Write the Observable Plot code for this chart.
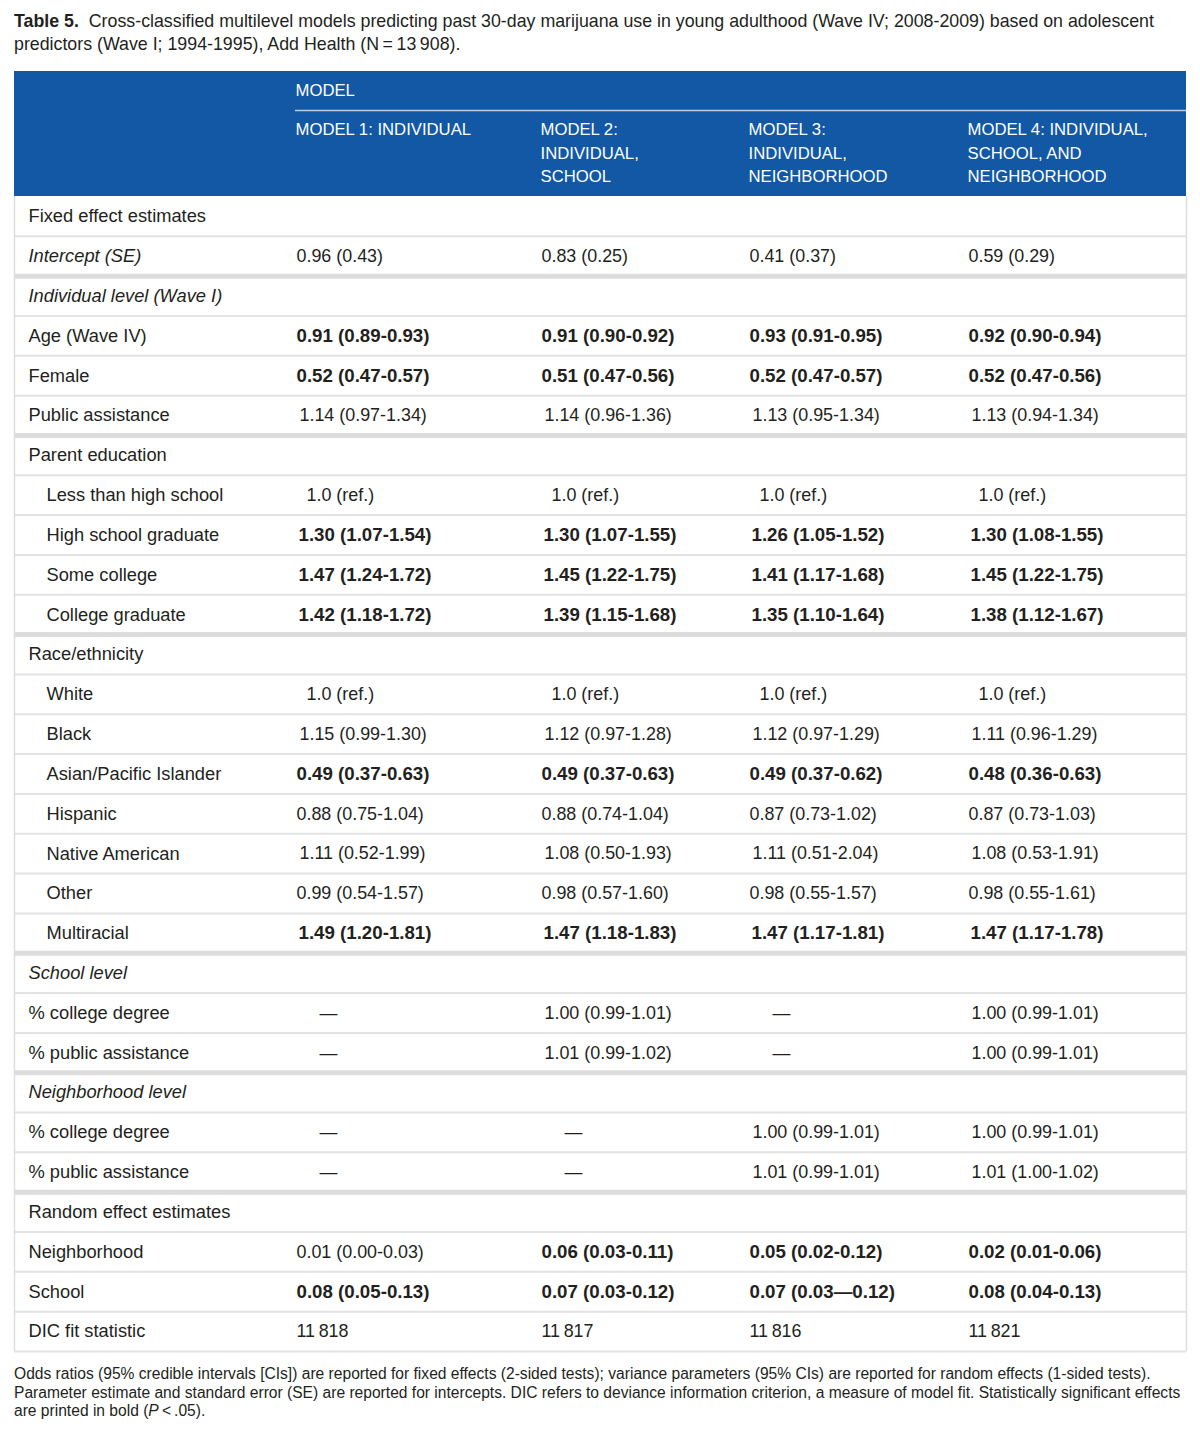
<!DOCTYPE html>
<html>
<head>
<meta charset="utf-8">
<script src="https://cdn.jsdelivr.net/npm/d3@7"></script>
<script src="https://cdn.jsdelivr.net/npm/@observablehq/plot@0.6"></script>
<style>
  body { margin: 0; background: #fff; font-family: "Liberation Sans", Arial, Helvetica, sans-serif; color: #231f20; }
  #page { position: relative; width: 1200px; height: 1435px; }
  #title { position: absolute; left: 14px; top: 10px; font-size: 17.8px; line-height: 23px; white-space: nowrap; }
  #chart { position: absolute; left: 0; top: 70px; }
  #note { position: absolute; left: 14px; top: 1365px; font-size: 15.6px; line-height: 18.7px; white-space: nowrap; }
</style>
</head>
<body>
<div id="page">
  <div id="title"><b>Table 5.</b>&nbsp; Cross-classified multilevel models predicting past 30-day marijuana use in young adulthood (Wave IV; 2008-2009) based on adolescent<br>predictors (Wave I; 1994-1995), Add Health (N&#8201;=&#8201;13&#8201;908).</div>
  <div id="chart"></div>
  <div id="note">Odds ratios (95% credible intervals [CIs]) are reported for fixed effects (2-sided tests); variance parameters (95% CIs) are reported for random effects (1-sided tests).<br>Parameter estimate and standard error (SE) are reported for intercepts. DIC refers to deviance information criterion, a measure of model fit. Statistically significant effects<br>are printed in bold (<i>P</i>&#8201;&lt;&#8201;.05).</div>
</div>
<script>
// ---------- data ----------
const headerGroup = "MODEL";
const modelLabels = [
  "MODEL 1: INDIVIDUAL",
  "MODEL 2:\nINDIVIDUAL,\nSCHOOL",
  "MODEL 3:\nINDIVIDUAL,\nNEIGHBORHOOD",
  "MODEL 4: INDIVIDUAL,\nSCHOOL, AND\nNEIGHBORHOOD"
];
const rowLabels = [
  "Fixed effect estimates", "Intercept (SE)", "Individual level (Wave I)", "Age (Wave IV)", "Female",
  "Public assistance", "Parent education", "Less than high school", "High school graduate", "Some college",
  "College graduate", "Race/ethnicity", "White", "Black", "Asian/Pacific Islander", "Hispanic",
  "Native American", "Other", "Multiracial", "School level", "% college degree", "% public assistance",
  "Neighborhood level", "% college degree", "% public assistance", "Random effect estimates",
  "Neighborhood", "School", "DIC fit statistic"
];
const italicRows = [1, 2, 19, 22];
const indentRows = [7, 8, 9, 10, 12, 13, 14, 15, 16, 17, 18];
const thickAfter = [1, 5, 10, 18, 21, 24];

const model1 = ["", "0.96 (0.43)", "", "0.91 (0.89-0.93)", "0.52 (0.47-0.57)", "1.14 (0.97-1.34)", "",
  "1.0 (ref.)", "1.30 (1.07-1.54)", "1.47 (1.24-1.72)", "1.42 (1.18-1.72)", "", "1.0 (ref.)",
  "1.15 (0.99-1.30)", "0.49 (0.37-0.63)", "0.88 (0.75-1.04)", "1.11 (0.52-1.99)", "0.99 (0.54-1.57)",
  "1.49 (1.20-1.81)", "", "—", "—", "", "—", "—", "", "0.01 (0.00-0.03)", "0.08 (0.05-0.13)", "11\u2009818"];
const model2 = ["", "0.83 (0.25)", "", "0.91 (0.90-0.92)", "0.51 (0.47-0.56)", "1.14 (0.96-1.36)", "",
  "1.0 (ref.)", "1.30 (1.07-1.55)", "1.45 (1.22-1.75)", "1.39 (1.15-1.68)", "", "1.0 (ref.)",
  "1.12 (0.97-1.28)", "0.49 (0.37-0.63)", "0.88 (0.74-1.04)", "1.08 (0.50-1.93)", "0.98 (0.57-1.60)",
  "1.47 (1.18-1.83)", "", "1.00 (0.99-1.01)", "1.01 (0.99-1.02)", "", "—", "—", "", "0.06 (0.03-0.11)",
  "0.07 (0.03-0.12)", "11\u2009817"];
const model3 = ["", "0.41 (0.37)", "", "0.93 (0.91-0.95)", "0.52 (0.47-0.57)", "1.13 (0.95-1.34)", "",
  "1.0 (ref.)", "1.26 (1.05-1.52)", "1.41 (1.17-1.68)", "1.35 (1.10-1.64)", "", "1.0 (ref.)",
  "1.12 (0.97-1.29)", "0.49 (0.37-0.62)", "0.87 (0.73-1.02)", "1.11 (0.51-2.04)", "0.98 (0.55-1.57)",
  "1.47 (1.17-1.81)", "", "—", "—", "", "1.00 (0.99-1.01)", "1.01 (0.99-1.01)", "", "0.05 (0.02-0.12)",
  "0.07 (0.03—0.12)", "11\u2009816"];
const model4 = ["", "0.59 (0.29)", "", "0.92 (0.90-0.94)", "0.52 (0.47-0.56)", "1.13 (0.94-1.34)", "",
  "1.0 (ref.)", "1.30 (1.08-1.55)", "1.45 (1.22-1.75)", "1.38 (1.12-1.67)", "", "1.0 (ref.)",
  "1.11 (0.96-1.29)", "0.48 (0.36-0.63)", "0.87 (0.73-1.03)", "1.08 (0.53-1.91)", "0.98 (0.55-1.61)",
  "1.47 (1.17-1.78)", "", "1.00 (0.99-1.01)", "1.00 (0.99-1.01)", "", "1.00 (0.99-1.01)", "1.01 (1.00-1.02)",
  "", "0.02 (0.01-0.06)", "0.08 (0.04-0.13)", "11\u2009821"];
// rows printed in bold (significant) per model
const sig1 = [3, 4, 8, 9, 10, 14, 18, 27];
const sig2 = [3, 4, 8, 9, 10, 14, 18, 26, 27];
const sig3 = [3, 4, 8, 9, 10, 14, 18, 26, 27];
const sig4 = [3, 4, 8, 9, 10, 14, 18, 26, 27];

// ---------- layout ----------
const NROWS = rowLabels.length;
const ROW_PX = 39.83;
const HEAD_PX = 125;
const HEAD = HEAD_PX / ROW_PX;
const TL = 14, TR = 1186;
const colX = [296, 541, 749, 968];
const hy = px => px / ROW_PX - HEAD;   // header pixel offset -> row units
const FONT = "Liberation Sans, Arial, Helvetica, sans-serif";
const INK = "#231f20";

const models = [model1, model2, model3, model4];
const sigs = [sig1, sig2, sig3, sig4];
const cells = [];
models.forEach((m, j) => m.forEach((t, i) => {
  if (t) cells.push({row: i, col: j, text: t, bold: sigs[j].includes(i)});
}));
const offset = (t, bold) => t === "—" ? 23 : t.startsWith("1.0 (ref") ? 10 : (t[0] === "1" && t[1] === "." ? (bold ? 2 : 3) : 0);

const labels = rowLabels.map((t, i) => ({row: i, text: t, italic: italicRows.includes(i), indent: indentRows.includes(i)}));
const bounds = d3.range(1, NROWS + 1);
const thin = bounds.filter(b => !thickAfter.includes(b - 1));
const thick = bounds.filter(b => thickAfter.includes(b - 1));

const chart = Plot.plot({
  width: 1200,
  height: 1283,
  marginTop: 1, marginBottom: 2, marginLeft: 0, marginRight: 0,
  x: {domain: [0, 1200], axis: null},
  y: {domain: [-HEAD, NROWS], reverse: true, axis: null},
  style: {fontFamily: FONT, background: "transparent"},
  marks: [
    // header band
    Plot.rect([0], {x1: TL, x2: TR, y1: -HEAD, y2: 0, fill: "#1358a5"}),
    Plot.ruleY([hy(39)], {x1: 295, x2: TR, stroke: "#b9cfe8", strokeWidth: 1.5}),
    Plot.text([headerGroup], {x: 295, y: hy(19.5), text: d => d, textAnchor: "start", fill: "white", fontSize: 16.7}),
    Plot.text(modelLabels, {x: (d, i) => colX[i] - 1, y: hy(47), text: d => d, textAnchor: "start",
      lineAnchor: "top", lineHeight: 1.41, fill: "white", fontSize: 16.7}),
    // row separators
    Plot.ruleY(thin, {y: d => d, x1: TL, x2: TR, stroke: "#e3e3e3", strokeWidth: 2}),
    Plot.ruleY(thick, {y: d => d, x1: TL, x2: TR, stroke: "#dcdcdc", strokeWidth: 5}),
    // outer border
    Plot.ruleX([TL, TR], {x: d => d, y1: 0, y2: NROWS, stroke: "#dddddd", strokeWidth: 1.5}),
    // row labels
    Plot.text(labels.filter(d => !d.italic), {x: d => d.indent ? 46 : 28, y: d => d.row + 0.5, text: "text",
      textAnchor: "start", fill: INK, fontSize: 18.3}),
    Plot.text(labels.filter(d => d.italic), {x: 28, y: d => d.row + 0.5, text: "text",
      textAnchor: "start", fill: INK, fontSize: 18.3, fontStyle: "italic"}),
    // cells
    Plot.text(cells.filter(d => !d.bold), {x: d => colX[d.col] + offset(d.text, false), y: d => d.row + 0.5, text: "text",
      textAnchor: "start", fill: INK, fontSize: 17.9}),
    Plot.text(cells.filter(d => d.bold), {x: d => colX[d.col] + offset(d.text, true), y: d => d.row + 0.5, text: "text",
      textAnchor: "start", fill: INK, fontSize: 18.7, fontWeight: "bold"})
  ]
});
document.getElementById("chart").appendChild(chart);
</script>
</body>
</html>
